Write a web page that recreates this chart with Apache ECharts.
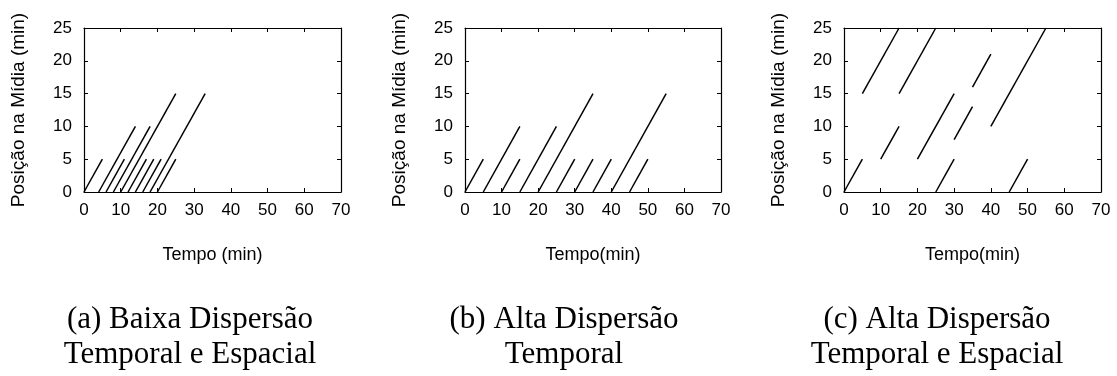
<!DOCTYPE html>
<html>
<head>
<meta charset="utf-8">
<script src="https://cdn.jsdelivr.net/npm/echarts@6/dist/echarts.min.js"></script>
<style>
	html, body { margin: 0; padding: 0; background: #fff; }
	#chart { width: 1117px; height: 376px; }
</style>
</head>
<body>
<div id="chart"></div>
<script>
// segmentos de cada cenário: início (x0, y0) e fim (x1, y1), em minutos
var aX0 = [0, 4, 6, 8, 10, 12, 14, 16, 18, 20];
var aY0 = [0, 0, 0, 0, 0, 0, 0, 0, 0, 0];
var aX1 = [5, 14, 11, 18, 25, 17, 19, 21, 33, 25];
var aY1 = [5, 10, 5, 10, 15, 5, 5, 5, 15, 5];

var bX0 = [0, 5, 10, 15, 20, 25, 30, 35, 40, 45];
var bY0 = [0, 0, 0, 0, 0, 0, 0, 0, 0, 0];
var bX1 = [5, 15, 15, 25, 35, 30, 35, 40, 55, 50];
var bY1 = [5, 10, 5, 10, 15, 5, 5, 5, 15, 5];

var cX0 = [0, 5, 10, 15, 20, 25, 30, 35, 40, 45];
var cY0 = [0, 15, 5, 15, 5, 0, 8, 16, 10, 0];
var cX1 = [5, 15, 15, 25, 30, 30, 35, 40, 55, 50];
var cY1 = [5, 25, 10, 25, 15, 5, 13, 21, 25, 5];

var xTicks = [0, 10, 20, 30, 40, 50, 60, 70];
var yTicks = [0, 5, 10, 15, 20, 25];

var xNames = ['Tempo (min)', 'Tempo(min)', 'Tempo(min)'];
var yName = 'Posição na Mídia (min)';
var captions = [
	'(a) Baixa Dispersão\nTemporal e Espacial',
	'(b) Alta Dispersão\nTemporal',
	'(c) Alta Dispersão\nTemporal e Espacial'
];

var myChart = echarts.init(document.getElementById('chart'));

var plots = [
	{ x0: aX0, y0: aY0, x1: aX1, y1: aY1, left: 84, width: 257, cap: 185 },
	{ x0: bX0, y0: bY0, x1: bX1, y1: bY1, left: 465, width: 256, cap: 559 },
	{ x0: cX0, y0: cY0, x1: cX1, y1: cY1, left: 844, width: 257, cap: 932 }
];

var font = 'Liberation Sans';
var grids = [], xAxes = [], yAxes = [], series = [], titles = [];

function segs(p) {
	var out = [];
	for (var i = 0; i < p.x0.length; i++) {
		out.push({ coords: [[p.x0[i], p.y0[i]], [p.x1[i], p.y1[i]]] });
	}
	return out;
}

plots.forEach(function(p, k) {
	grids.push({ left: p.left, top: 28, width: p.width, height: 164 });
	var axisLine = { show: true, onZero: false, lineStyle: { color: '#000', width: 1.2 } };
	var tick = { show: true, inside: true, length: 4, lineStyle: { color: '#000', width: 1 } };
	// eixo de baixo com rótulos
	xAxes.push({
		type: 'value', gridIndex: k, min: xTicks[0], max: xTicks[xTicks.length - 1], interval: 10,
		position: 'bottom', axisLine: axisLine, axisTick: tick, splitLine: { show: false },
		axisLabel: { color: '#000', fontFamily: font, fontSize: 17, margin: 10 },
		name: xNames[k], nameLocation: 'middle', nameGap: 54,
		nameTextStyle: { color: '#000', fontFamily: font, fontSize: 18 }
	});
	// espelho no topo
	xAxes.push({
		type: 'value', gridIndex: k, min: xTicks[0], max: xTicks[xTicks.length - 1], interval: 10,
		position: 'top', axisLine: axisLine, axisTick: tick, splitLine: { show: false },
		axisLabel: { show: false }
	});
	yAxes.push({
		type: 'value', gridIndex: k, min: yTicks[0], max: yTicks[yTicks.length - 1], interval: 5,
		position: 'left', axisLine: axisLine, axisTick: tick, splitLine: { show: false },
		axisLabel: { color: '#000', fontFamily: font, fontSize: 17, margin: 12 },
		name: yName, nameLocation: 'middle', nameGap: 56,
		nameTextStyle: { color: '#000', fontFamily: font, fontSize: 19 }
	});
	yAxes.push({
		type: 'value', gridIndex: k, min: yTicks[0], max: yTicks[yTicks.length - 1], interval: 5,
		position: 'right', axisLine: axisLine, axisTick: tick, splitLine: { show: false },
		axisLabel: { show: false }
	});
	series.push({
		type: 'lines', coordinateSystem: 'cartesian2d',
		xAxisIndex: k * 2, yAxisIndex: k * 2,
		lineStyle: { color: '#000', width: 1.5, opacity: 1 },
		data: segs(p)
	});
	titles.push({
		text: captions[k], left: p.cap, top: 297, textAlign: 'center',
		textStyle: { color: '#000', fontFamily: 'Liberation Serif', fontWeight: 'normal', fontSize: 31, lineHeight: 35 }
	});
});

myChart.setOption({
	animation: false,
	title: titles,
	grid: grids,
	xAxis: xAxes,
	yAxis: yAxes,
	series: series
});
</script>
</body>
</html>
